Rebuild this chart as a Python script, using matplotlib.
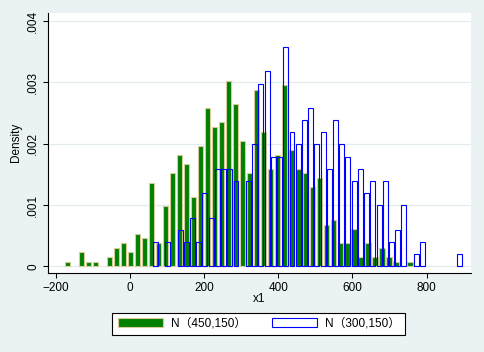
import numpy as np
import matplotlib.pyplot as plt

plt.rcParams['font.family'] = ['Liberation Sans', 'Noto Sans CJK SC']

# green series: 700 obs, 50 bins
green_n = 700
green_start = -178.1
green_width = 18.87
green_counts = [1, 0, 3, 1, 1, 0, 2, 4, 5, 3, 7, 6, 18, 5, 13, 20, 24, 22, 15, 26,
                34, 30, 31, 40, 35, 27, 20, 38, 29, 21, 24, 39, 25, 21, 20, 17, 19, 9, 10, 5,
                5, 8, 2, 5, 2, 4, 2, 1, 0, 1]

# blue series: 300 obs, 50 bins
blue_n = 300
blue_start = 59.4
blue_width = 16.78
blue_counts = [2, 0, 2, 0, 3, 2, 4, 2, 6, 4, 8, 8, 8, 7, 0, 7, 10, 15, 16, 9,
               9, 18, 11, 10, 12, 13, 10, 11, 8, 12, 10, 9, 7, 8, 6, 7, 5, 7, 2, 3,
               5, 0, 1, 2, 0, 0, 0, 0, 0, 1]

legend_labels = ["N（450,150）", "N（300,150）"]
xticks = [-200, 0, 200, 400, 600, 800]
yticks = [0, 0.001, 0.002, 0.003, 0.004]
ytick_labels = ["0", ".001", ".002", ".003", ".004"]

bg = '#EAF2F3'

gc = np.array(green_counts)
g_x = green_start + (np.arange(len(gc)) + 0.5) * green_width
g_y = gc / (green_n * green_width)
bc = np.array(blue_counts)
b_x = blue_start + (np.arange(len(bc)) + 0.5) * blue_width
b_y = bc / (blue_n * blue_width)

fig = plt.figure(figsize=(4.84, 3.52), dpi=100, facecolor=bg)
ax = fig.add_axes([48.3 / 484, (352 - 272.7) / 352, (470.7 - 48.3) / 484, (272.7 - 12.7) / 352])
ax.set_facecolor('white')

# empty bins are not drawn
g = ax.bar(g_x[gc > 0], g_y[gc > 0], width=green_width * 0.8, color='#008000',
           edgecolor='#D6CB9A', linewidth=0.8)
b = ax.bar(b_x[bc > 0], b_y[bc > 0], width=blue_width * 0.8, facecolor='none',
           edgecolor='#0000FF', linewidth=0.8)

ax.set_xlim(-220.4, 919)
ax.set_ylim(-0.000104, 0.004135)
ax.set_xticks(xticks)
ax.set_yticks(yticks)
ax.set_yticklabels(ytick_labels, rotation=90, va='center')
ax.tick_params(labelsize=8.5, length=3.6, width=0.75, pad=3)
ax.yaxis.grid(True, color='#E2ECEE', linewidth=0.9)
ax.set_axisbelow(True)

for s in ['top', 'right']:
    ax.spines[s].set_visible(False)
for s in ['left', 'bottom']:
    ax.spines[s].set_linewidth(0.8)

ax.set_xlabel('x1', fontsize=8.5)
ax.xaxis.set_label_coords(0.499, -0.078)
ax.set_ylabel('Density', fontsize=8.5)
ax.yaxis.set_label_coords(-0.062, 0.5)

leg = fig.legend([g, b], legend_labels, loc='center', bbox_to_anchor=(0.535, 0.080), ncol=2,
                 fancybox=False, edgecolor='black', framealpha=1, fontsize=8.5,
                 handlelength=3.8, handleheight=0.85, handletextpad=0.7,
                 columnspacing=2.2, borderpad=0.45)
leg.get_frame().set_linewidth(0.8)

fig.savefig('out.png', dpi=100, facecolor=bg)
